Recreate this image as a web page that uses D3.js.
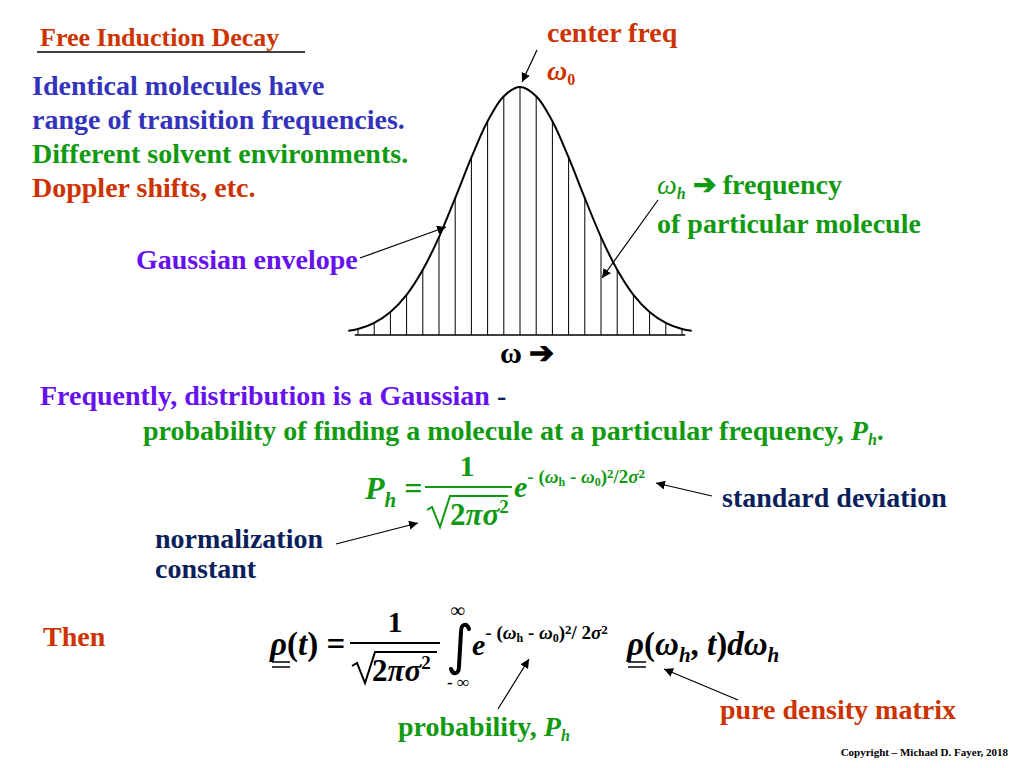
<!DOCTYPE html>
<html><head><meta charset="utf-8">
<script src="https://cdn.jsdelivr.net/npm/d3@7"></script>
<style>body{margin:0;background:#fff}text{font-family:"Liberation Serif","Times New Roman",serif;font-weight:bold}</style>
</head><body><svg id="c" width="1024" height="768"></svg>
<script>
// line positions (in line-spacing units) and envelope heights
const linePos = d3.range(-10, 11);
const curveX = [-10.6,-10,-9,-8,-7,-6,-5,-4,-3,-2,-1,0,1,2,3,4,5,6,7,8,9,10,10.6];
const curveY = [0.017,0.024,0.049,0.093,0.162,0.263,0.395,0.552,0.716,0.862,0.963,1,0.963,0.862,0.716,0.552,0.395,0.263,0.162,0.093,0.049,0.024,0.017];
const lineH = [0.024,0.049,0.093,0.162,0.263,0.395,0.552,0.716,0.862,0.963,1,0.963,0.862,0.716,0.552,0.395,0.263,0.162,0.093,0.049,0.024];

const svg = d3.select("#c");
const x = d3.scaleLinear().domain([-10,10]).range([358,682]);
const y = d3.scaleLinear().domain([0,1]).range([335,87]);

svg.append("line").attr("x1",x(-10.2)).attr("x2",x(10.2)).attr("y1",y(0)).attr("y2",y(0)).attr("stroke","#000").attr("stroke-width",1.3);
svg.selectAll(".v").data(linePos).join("line").attr("x1",d=>x(d)).attr("x2",d=>x(d))
  .attr("y1",y(0)).attr("y2",(d,i)=>y(lineH[i])).attr("stroke","#000").attr("stroke-width",1);
svg.append("path").datum(curveX.map((c,i)=>[c,curveY[i]]))
  .attr("d",d3.line().x(d=>x(d[0])).y(d=>y(d[1])).curve(d3.curveCatmullRom))
  .attr("fill","none").attr("stroke","#000").attr("stroke-width",2);

const defs=svg.append("defs");
defs.append("marker").attr("id","ah").attr("viewBox","0 0 10 10").attr("refX",10).attr("refY",5)
 .attr("markerWidth",9).attr("markerHeight",9).attr("orient","auto").attr("markerUnits","userSpaceOnUse")
 .append("path").attr("d","M0,0L10,5L0,10z").attr("fill","#000");
function arrow(x1,y1,x2,y2){svg.append("line").attr("x1",x1).attr("y1",y1).attr("x2",x2).attr("y2",y2).attr("stroke","#000").attr("stroke-width",1.2).attr("marker-end","url(#ah)");}

function t(xx,yy,s,col,size,anchor){return svg.append("text").attr("x",xx).attr("y",yy).attr("fill",col).attr("font-size",size||28).attr("text-anchor",anchor||"start").text(s);}
const RED="#cc3300",BLUE="#3333bb",GREEN="#119911",PURP="#6611ee",NAVY="#0a1f5c";

t(40,46,"Free Induction Decay",RED,26);
svg.append("line").attr("x1",37).attr("x2",305).attr("y1",52).attr("y2",52).attr("stroke","#000").attr("stroke-width",1.5);
t(32,95,"Identical molecules have",BLUE);
t(32,129,"range of transition frequencies.",BLUE);
t(32,163,"Different solvent environments.",GREEN);
t(32,197,"Doppler shifts, etc.",RED);
t(136,269,"Gaussian envelope",PURP);
arrow(360,258,446,227);

t(547,42,"center freq",RED);
let w0=t(547,80,"",RED,28); w0.append("tspan").attr("font-style","italic").text("ω");
w0.append("tspan").attr("font-size",16).attr("dy",5).text("0");
arrow(537,50,522,82);

let wh=svg.append("text").attr("x",657).attr("y",194).attr("fill",GREEN).attr("font-size",28);
wh.append("tspan").attr("font-style","italic").attr("font-weight","normal").text("ω");
wh.append("tspan").attr("font-size",16).attr("dy",5).attr("font-style","italic").text("h");
wh.append("tspan").attr("dy",-5).text(" ➔ frequency");
t(657,233,"of particular molecule",GREEN);
arrow(658,200,602,278);

t(500,363,"ω  ➔","#000",30);

let f1=t(40,405,"Frequently, distribution is a Gaussian",PURP);
f1.append("tspan").attr("fill",NAVY).text(" -");
let f2=t(143,440,"probability of finding a molecule at a particular frequency, ",GREEN);
f2.append("tspan").attr("font-style","italic").text("P");
f2.append("tspan").attr("font-size",16).attr("dy",5).attr("font-style","italic").text("h");
f2.append("tspan").attr("dy",-5).text(".");

// equation 1
let p=t(365,499,"",GREEN,32); p.append("tspan").attr("font-style","italic").text("P");
p.append("tspan").attr("font-size",21).attr("dy",8).attr("font-style","italic").text("h");
p.append("tspan").attr("dy",-8).attr("dx",8).text("=");
t(467,476,"1",GREEN,30,"middle");
svg.append("line").attr("x1",425).attr("x2",512).attr("y1",487).attr("y2",487).attr("stroke",GREEN).attr("stroke-width",2);
svg.append("path").attr("d","M427,510 L432,507 L440,527 L450,496 L508,496").attr("fill","none").attr("stroke",GREEN).attr("stroke-width",2);
let s1=t(450,525,"2",GREEN,31); s1.append("tspan").attr("font-style","italic").text("πσ"); s1.append("tspan").attr("font-size",19).attr("dy",-12).text("2");
let e1=t(514,497,"",GREEN,30); e1.append("tspan").attr("font-style","italic").text("e");
e1.append("tspan").attr("font-size",19).attr("dy",-14).text("- (");
e1.append("tspan").attr("font-size",19).attr("font-style","italic").text("ω");
e1.append("tspan").attr("font-size",12).attr("dy",3).text("h");
e1.append("tspan").attr("font-size",19).attr("dy",-3).text(" - ");
e1.append("tspan").attr("font-size",19).attr("font-style","italic").text("ω");
e1.append("tspan").attr("font-size",12).attr("dy",3).text("0");
e1.append("tspan").attr("font-size",19).attr("dy",-3).text(")");
e1.append("tspan").attr("font-size",13).attr("dy",-5).text("2");
e1.append("tspan").attr("font-size",19).attr("dy",5).text("/2");
e1.append("tspan").attr("font-size",19).attr("font-style","italic").text("σ");
e1.append("tspan").attr("font-size",13).attr("dy",-5).text("2");
arrow(712,496,656,483);
t(722,507,"standard deviation",NAVY);
t(155,548,"normalization",NAVY);
t(155,578,"constant",NAVY);
arrow(336,544,418,523);

// equation 2
t(43,646,"Then",RED);
let r=t(270,655,"",  "#000",33); r.append("tspan").attr("font-style","italic").text("ρ"); r.append("tspan").text("(");
r.append("tspan").attr("font-style","italic").text("t"); r.append("tspan").text(") =");
[662,667].forEach(yy=>svg.append("line").attr("x1",272).attr("x2",290).attr("y1",yy).attr("y2",yy).attr("stroke","#000").attr("stroke-width",1.5));
t(395,632,"1","#000",30,"middle");
svg.append("line").attr("x1",350).attr("x2",440).attr("y1",643).attr("y2",643).attr("stroke","#000").attr("stroke-width",2);
svg.append("path").attr("d","M352,666 L357,663 L365,683 L375,652 L437,652").attr("fill","none").attr("stroke","#000").attr("stroke-width",2);
let s2=t(372,681,"2","#000",31); s2.append("tspan").attr("font-style","italic").text("πσ"); s2.append("tspan").attr("font-size",19).attr("dy",-12).text("2");
t(458,617,"∞","#000",20,"middle");
svg.append("path").attr("d","M469,629 C467,623 461,623 461,632 L459,666 C459,675 453,675 451,669")
  .attr("fill","none").attr("stroke","#000").attr("stroke-width",4).attr("stroke-linecap","round");
t(458,688,"- ∞","#000",17,"middle");
let e2=t(472,655,"","#000",30); e2.append("tspan").attr("font-style","italic").text("e");
e2.append("tspan").attr("font-size",19).attr("dy",-16).text("- (");
e2.append("tspan").attr("font-size",19).attr("font-style","italic").text("ω");
e2.append("tspan").attr("font-size",12).attr("dy",3).text("h");
e2.append("tspan").attr("font-size",19).attr("dy",-3).text(" - ");
e2.append("tspan").attr("font-size",19).attr("font-style","italic").text("ω");
e2.append("tspan").attr("font-size",12).attr("dy",3).text("0");
e2.append("tspan").attr("font-size",19).attr("dy",-3).text(")");
e2.append("tspan").attr("font-size",13).attr("dy",-5).text("2");
e2.append("tspan").attr("font-size",19).attr("dy",5).text("/ 2");
e2.append("tspan").attr("font-size",19).attr("font-style","italic").text("σ");
e2.append("tspan").attr("font-size",13).attr("dy",-5).text("2");
let r2=t(627,655,"","#000",33); r2.append("tspan").attr("font-style","italic").text("ρ"); r2.append("tspan").text("(");
r2.append("tspan").attr("font-style","italic").text("ω"); r2.append("tspan").attr("font-size",21).attr("dy",7).attr("font-style","italic").text("h");
r2.append("tspan").attr("dy",-7).text(", "); r2.append("tspan").attr("font-style","italic").text("t");
r2.append("tspan").text(")"); r2.append("tspan").attr("font-style","italic").text("dω");
r2.append("tspan").attr("font-size",21).attr("dy",7).attr("font-style","italic").text("h");
[662,667].forEach(yy=>svg.append("line").attr("x1",628).attr("x2",646).attr("y1",yy).attr("y2",yy).attr("stroke","#000").attr("stroke-width",1.5));
arrow(498,709,529,659);
let pb=t(398,736,"probability, ",GREEN); pb.append("tspan").attr("font-style","italic").text("P");
pb.append("tspan").attr("font-size",16).attr("dy",5).attr("font-style","italic").text("h");
arrow(738,700,664,669);
t(720,719,"pure density matrix",RED);
t(1008,756,"Copyright – Michael D. Fayer, 2018","#000",11,"end").attr("font-weight","normal");
</script></body></html>
